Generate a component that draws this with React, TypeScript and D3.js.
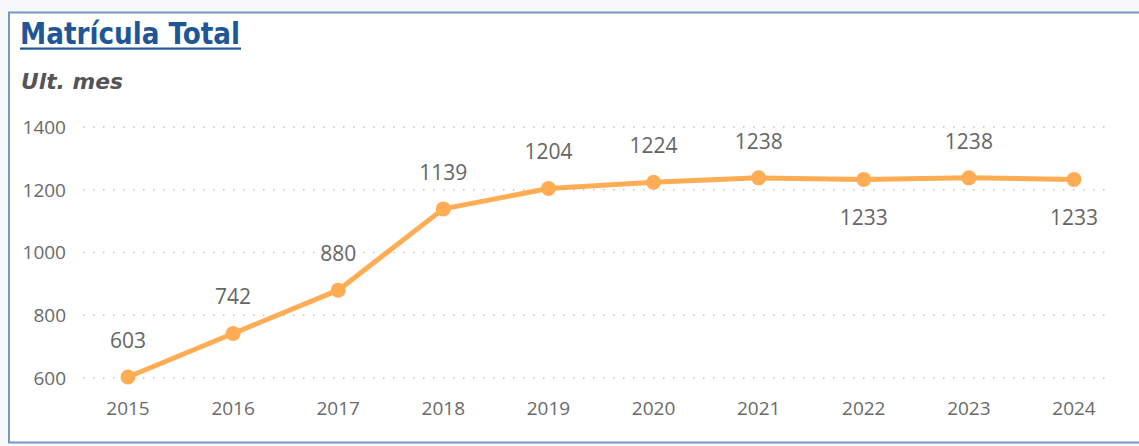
import React from "react";
import * as d3 from "d3";

const years = ["2015", "2016", "2017", "2018", "2019", "2020", "2021", "2022", "2023", "2024"];
const matricula = [603, 742, 880, 1139, 1204, 1224, 1238, 1233, 1238, 1233];
const yTicks = [600, 800, 1000, 1200, 1400];
const labelBelow = [false, false, false, false, false, false, false, true, false, true];

export default function App() {
  const W = 1139, H = 446;
  const x = d3.scalePoint<string>().domain(years).range([128, 1074]);
  const y = d3.scaleLinear().domain([600, 1400]).range([378, 127]);
  const line = d3.line<number>().x((_, i) => x(years[i])!).y(d => y(d));
  const font = "'Open Sans', 'Noto Sans', sans-serif";
  return (
    <div style={{ position: "absolute", left: 0, top: 0 }}>
      <svg width={W} height={H} style={{ display: "block" }}>
        <rect x={0} y={0} width={W} height={H} fill="#f7f8f9" />
        <rect x={9} y={12.5} width={1140} height={430} fill="#fff" stroke="#7598c6" strokeWidth={2} />
        <text x={20} y={44} fontFamily="'Liberation Sans Narrow', 'DejaVu Sans Condensed', sans-serif" fontWeight="bold" fontSize={31} fill="#1f5696" textLength={220} lengthAdjust="spacingAndGlyphs">Matrícula Total</text>
        <rect x={20} y={47.5} width={221} height={2.2} fill="#1f5696" />
        <text x={21} y={89} fontFamily="'Liberation Sans Narrow', 'DejaVu Sans Condensed', sans-serif" fontWeight="bold" fontStyle="italic" fontSize={21} fill="#555" textLength={102} lengthAdjust="spacingAndGlyphs">Ult. mes</text>
        {yTicks.map(t => (
          <g key={t}>
            <line x1={83} x2={1112} y1={y(t)} y2={y(t)} stroke="#c4c4c4" strokeWidth={1.3} strokeDasharray="1.5 8.5" />
            <text x={66} y={y(t)} dy="0.36em" textAnchor="end" fontFamily={font} fontSize={19} fill="#6a6a6a">{t}</text>
          </g>
        ))}
        {years.map(yr => (
          <text key={yr} x={x(yr)} y={415} textAnchor="middle" fontFamily={font} fontSize={19} fill="#6a6a6a">{yr}</text>
        ))}
        <path d={line(matricula)!} fill="none" stroke="#ffad54" strokeWidth={5} strokeLinejoin="round" />
        {matricula.map((v, i) => (
          <g key={i}>
            <circle cx={x(years[i])} cy={y(v)} r={7.5} fill="#ffad54" />
            <text x={x(years[i])} y={labelBelow[i] ? y(v) + 46 : y(v) - 29} textAnchor="middle" fontFamily={font} fontSize={21} fill="#666">{v}</text>
          </g>
        ))}
      </svg>
    </div>
  );
}
